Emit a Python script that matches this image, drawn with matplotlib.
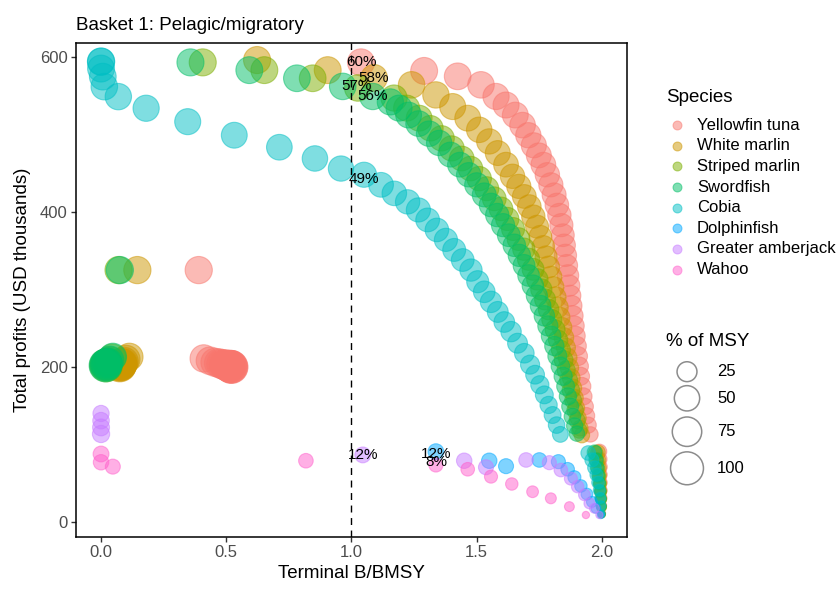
import numpy as np
import matplotlib
matplotlib.use('Agg')
import matplotlib.pyplot as plt

plt.rcParams['font.family'] = ['Liberation Sans', 'DejaVu Sans']

species = ['Yellowfin tuna', 'White marlin', 'Striped marlin', 'Swordfish',
           'Cobia', 'Dolphinfish', 'Greater amberjack', 'Wahoo']
colors = ['#F8766D', '#CD9600', '#7CAE00', '#00BE67',
          '#00BFC4', '#00A9FF', '#C77CFF', '#FF61CC']

# --- Yellowfin tuna: sustainable curve, near-zero catch tail, collapsed runs
yft_b = [1.038, 1.29, 1.424, 1.517, 1.577, 1.617, 1.654, 1.683, 1.706, 1.728,
         1.748, 1.766, 1.782, 1.796, 1.809, 1.82, 1.83, 1.838, 1.844, 1.849,
         1.854, 1.859, 1.864, 1.869, 1.874, 1.879, 1.884, 1.889, 1.894, 1.899,
         1.904, 1.909, 1.914, 1.92, 1.926, 1.932, 1.938, 1.945, 1.954,
         1.99, 1.992, 1.994, 1.995, 1.996, 1.997, 1.998, 1.999, 2.0,
         0.39, 0.41, 0.435, 0.455, 0.47, 0.48, 0.49, 0.497, 0.503, 0.508,
         0.512, 0.515, 0.517, 0.519, 0.52, 0.521]
yft_profit = [593, 582, 575, 564, 549, 538, 525, 512, 499, 486,
              473, 461, 448, 435, 422, 409, 396, 383, 370, 357,
              344, 331, 318, 305, 292, 279, 266, 253, 240, 227,
              214, 201, 188, 175, 162, 149, 137, 125, 113,
              91, 81, 71, 61, 51, 41, 31, 21, 11,
              325, 211, 208, 206, 205, 204, 203, 202.5, 202, 201.5,
              201, 201, 200.5, 200.5, 200, 200]
yft_pct = [60, 59, 58, 57, 55, 54, 53, 52, 50, 49,
           48, 47, 45, 44, 43, 41, 40, 39, 37, 36,
           35, 33, 32, 31, 29, 28, 27, 26, 24, 23,
           22, 20, 19, 18, 16, 15, 14, 13, 11,
           9, 8, 7, 6, 5, 4, 3, 2, 1,
           61, 62, 64, 67, 70, 73, 76, 79, 82, 85,
           88, 91, 94, 96, 98, 100]

# --- White marlin
wm_b = [1.09, 1.24, 1.337, 1.404, 1.464, 1.51, 1.55, 1.584, 1.617, 1.643,
        1.668, 1.69, 1.71, 1.726, 1.741, 1.754, 1.766, 1.777, 1.787, 1.797,
        1.806, 1.815, 1.824, 1.832, 1.84, 1.848, 1.856, 1.863, 1.87, 1.877,
        1.884, 1.891, 1.898, 1.905, 1.913, 1.92,
        1.984, 1.987, 1.99, 1.992, 1.994, 1.996, 1.997, 1.998, 1.999,
        0.905, 0.623, 0.145, 0.113, 0.1, 0.092, 0.087, 0.083, 0.08, 0.078,
        0.077, 0.076, 0.075]
wm_profit = [573, 564, 551, 536, 521, 506, 491, 476, 461, 446,
             433, 420, 407, 394, 381, 368, 355, 342, 329, 316,
             303, 290, 277, 264, 251, 238, 225, 212, 199, 186,
             173, 160, 147, 134, 121, 112,
             90, 80, 70, 60, 50, 40, 30, 20, 10,
             583, 596, 325, 213, 210, 207, 205, 204, 203, 203,
             202.5, 202.5, 202]
wm_pct = [58, 57, 56, 54, 53, 51, 50, 48, 47, 45,
          44, 42, 41, 40, 38, 37, 36, 34, 33, 32,
          30, 29, 28, 26, 25, 24, 22, 21, 20, 18,
          17, 16, 14, 13, 12, 11,
          9, 8, 7, 6, 5, 4, 3, 2, 1,
          59, 60, 61, 62, 65, 69, 73, 77, 81, 85,
          90, 95, 100]

# --- Striped marlin
sm_b = [1.025, 1.17, 1.22, 1.27, 1.315, 1.36, 1.40, 1.44, 1.475, 1.51,
        1.54, 1.57, 1.597, 1.622, 1.645, 1.667, 1.688, 1.707, 1.725, 1.742,
        1.758, 1.773, 1.787, 1.80, 1.813, 1.825, 1.836, 1.847, 1.857, 1.867,
        1.876, 1.885, 1.893, 1.901, 1.91,
        1.975, 1.98, 1.984, 1.988, 1.991, 1.994, 1.996, 1.998, 1.999,
        0.845, 0.652, 0.406, 0.07, 0.045, 0.035, 0.03, 0.027, 0.025, 0.023,
        0.022, 0.021, 0.02]
sm_profit = [560, 547, 534, 521, 508, 495, 482, 469, 456, 443,
             430, 417, 404, 391, 378, 365, 352, 339, 326, 313,
             300, 287, 274, 261, 248, 235, 222, 209, 196, 183,
             170, 157, 144, 131, 118,
             89, 79, 69, 59, 49, 39, 29, 19, 10,
             572.5, 583, 593, 325, 212, 208, 206, 205, 204, 203.5,
             203, 202.5, 202]
sm_pct = [57, 55, 54, 53, 51, 50, 49, 47, 46, 45,
          43, 42, 41, 39, 38, 37, 35, 34, 33, 31,
          30, 29, 27, 26, 25, 23, 22, 21, 19, 18,
          17, 15, 14, 13, 11,
          9, 8, 7, 6, 5, 4, 3, 2, 1,
          58, 59, 60, 61, 62, 65, 69, 73, 77, 81,
          86, 92, 100]

# --- Swordfish
swo_b = [1.085, 1.155, 1.19, 1.228, 1.268, 1.31, 1.35, 1.395, 1.433, 1.468,
         1.50, 1.53, 1.557, 1.582, 1.605, 1.628, 1.65, 1.67, 1.689, 1.707,
         1.724, 1.74, 1.755, 1.77, 1.784, 1.797, 1.81, 1.822, 1.834, 1.845,
         1.855, 1.864, 1.873, 1.882, 1.891, 1.90,
         1.97, 1.976, 1.981, 1.986, 1.99, 1.993, 1.996, 1.998, 1.999,
         0.965, 0.782, 0.592, 0.357, 0.075, 0.047, 0.035, 0.028, 0.024, 0.021,
         0.02, 0.019, 0.018]
swo_profit = [549, 542, 534, 525, 514, 501, 489, 474, 461, 448,
              435, 422, 409, 396, 383, 370, 357, 344, 331, 318,
              305, 292, 279, 266, 253, 240, 227, 214, 201, 188,
              175, 162, 149, 136, 124, 114,
              90, 80, 70, 60, 50, 40, 30, 20, 10,
              562, 572.5, 583, 593, 325, 213, 209, 206, 205, 204,
              203, 202.5, 202]
swo_pct = [56, 55, 54, 53, 52, 51, 50, 48, 47, 45,
           44, 43, 41, 40, 39, 37, 36, 35, 33, 32,
           31, 30, 28, 27, 26, 24, 23, 22, 20, 19,
           18, 16, 15, 14, 13, 11,
           9, 8, 7, 6, 5, 4, 3, 2, 1,
           57, 58, 59, 60, 61, 62, 65, 69, 73, 78,
           84, 91, 100]

# --- Cobia
cob_b = [1.05, 1.118, 1.171, 1.224, 1.267, 1.304, 1.341, 1.377, 1.41, 1.444,
         1.477, 1.504, 1.53, 1.557, 1.584, 1.61, 1.637, 1.663, 1.69, 1.713,
         1.733, 1.752, 1.77, 1.787, 1.803, 1.819, 1.834,
         1.945, 1.96, 1.97, 1.978, 1.984, 1.989, 1.993, 1.996, 1.998,
         0.958, 0.854, 0.712, 0.532, 0.346, 0.18, 0.069, 0.013, 0.007, 0.0,
         0.0, 0.0]
cob_profit = [448, 435, 424, 413, 402.6, 389.7, 376.8, 364, 351, 338,
              325, 310, 297, 284, 271, 258, 245.6, 230.6, 217.7, 203,
              190, 177, 164, 151, 138, 125, 113,
              89, 80, 70, 61, 51, 41, 31, 21, 11,
              456, 469, 483.5, 499, 516.5, 533.8, 548.8, 561.7, 574.6, 585,
              594, 594]
cob_pct = [49, 47, 46, 45, 44, 42, 41, 39, 38, 37,
           35, 34, 32, 31, 29, 28, 27, 25, 24, 22,
           21, 19, 18, 16, 15, 14, 12,
           9, 8, 7, 6, 5, 4, 3, 2, 1,
           50, 51, 52, 53, 54, 55, 56, 57, 58, 59,
           60, 61]

# --- Dolphinfish
dol_b = [1.337, 1.55, 1.617, 1.75, 1.826, 1.863, 1.89, 1.916, 1.94, 1.96,
         1.976, 1.996]
dol_profit = [90.7, 79, 72, 80, 77.8, 68, 57.7, 46.5, 36, 26, 17.6, 9]
dol_pct = [12, 11, 10, 9, 8, 7, 6, 5, 4, 3, 2, 1]

# --- Greater amberjack
amb_b = [1.045, 1.45, 1.537, 1.697, 1.79, 1.836, 1.876, 1.903, 1.93, 1.95,
         1.97, 1.99, 0.0, 0.0, 0.0, 0.0]
amb_profit = [86.5, 79, 70.6, 80, 76.5, 67, 56, 45.6, 35, 24, 17.6, 9,
              140, 130.7, 122, 113.5]
amb_pct = [12, 11, 10, 9, 8, 7, 6, 5, 4, 3, 2, 1, 13, 14, 15, 16]

# --- Wahoo
wah_b = [1.337, 1.464, 1.557, 1.64, 1.723, 1.796, 1.87, 1.936,
         0.818, 0.047, 0.0, 0.0]
wah_profit = [73.5, 68, 58.5, 49, 39, 30.5, 19.8, 9, 79, 71.4, 77, 87.7]
wah_pct = [8, 7, 6, 5, 4, 3, 2, 1, 9, 10, 11, 12]

# % of MSY labels at the point closest to B = BMSY
label_b = [1.038, 1.09, 1.02, 1.085, 1.05, 1.045, 1.337, 1.337]
label_profit = [593, 573, 562, 549, 443, 86.5, 88, 77]
label_text = ['60%', '58%', '57%', '56%', '49%', '12%', '12%', '8%']

size_breaks = [25, 50, 75, 100]

series = [(yft_b, yft_profit, yft_pct), (wm_b, wm_profit, wm_pct),
          (sm_b, sm_profit, sm_pct), (swo_b, swo_profit, swo_pct),
          (cob_b, cob_profit, cob_pct), (dol_b, dol_profit, dol_pct),
          (amb_b, amb_profit, amb_pct), (wah_b, wah_profit, wah_pct)]

EDGE_PX = 1.1


def marker_area(pct):
    # area scale: outer diameter in pixels grows with sqrt of % MSY
    pct = np.asarray(pct, dtype=float)
    d_px = 8.4 + 25.6 * np.sqrt(np.clip(pct - 1, 0, None) / 99)
    return ((d_px - EDGE_PX) * 0.72) ** 2


fig = plt.figure(figsize=(8.37, 5.9), dpi=100)
ax = fig.add_axes([76 / 837, 1 - 537 / 590, (627 - 76) / 837, (537 - 43) / 590])

for (b, profit, pct), col in zip(series, colors):
    ax.scatter(b, profit, s=marker_area(pct), facecolor=col, edgecolor=col,
               linewidths=EDGE_PX * 0.72, alpha=0.5, zorder=2)

ax.axvline(1.0, color='black', linestyle=(0, (5, 4)), linewidth=1.0, zorder=3)

for bx, py, txt in zip(label_b, label_profit, label_text):
    ax.text(bx, py, txt, ha='center', va='center', fontsize=11,
            color='black', zorder=4)

ax.set_xlim(-0.1, 2.1)
ax.set_ylim(-19.4, 618)
ax.set_xticks([0.0, 0.5, 1.0, 1.5, 2.0])
ax.set_xticklabels(['0.0', '0.5', '1.0', '1.5', '2.0'])
ax.set_yticks([0, 200, 400, 600])
ax.tick_params(direction='out', length=3.5, width=1.0, color='#333333',
               labelcolor='#4D4D4D', labelsize=12, pad=2.5)
for sp in ax.spines.values():
    sp.set_color('black')
    sp.set_linewidth(1.1)
ax.set_xlabel('Terminal B/BMSY', fontsize=13.5, labelpad=3)
ax.set_ylabel('Total profits (USD thousands)', fontsize=13.5, labelpad=6)
ax.set_title('Basket 1: Pelagic/migratory', fontsize=13.5, loc='left', pad=9)

# legends drawn in pixel space on an overlay
lg = fig.add_axes([0, 0, 1, 1], facecolor='none')
lg.set_xlim(0, 837)
lg.set_ylim(590, 0)
lg.axis('off')

lg.text(666, 97, 'Species', fontsize=13.5, va='center', ha='left')
key_y = [125, 145.7, 166.3, 187, 207.7, 228.3, 249, 269.6]
for name, col, ky in zip(species, colors, key_y):
    lg.scatter([677], [ky], s=((10 - EDGE_PX) * 0.72) ** 2, facecolor=col,
               edgecolor=col, linewidths=EDGE_PX * 0.72, alpha=0.5)
    lg.text(697, ky, name, fontsize=12, va='center', ha='left')

lg.text(666, 342, '% of MSY', fontsize=13.5, va='center', ha='left')
ring_y = [371.7, 398.3, 431.7, 468.3]
for br, ry in zip(size_breaks, ring_y):
    lg.scatter([687], [ry], s=marker_area([br]), facecolor='none',
               edgecolor='#8C8C8C', linewidths=1.1)
    lg.text(717, ry, str(br), fontsize=12, va='center', ha='left')

fig.savefig('out.png', dpi=100)
